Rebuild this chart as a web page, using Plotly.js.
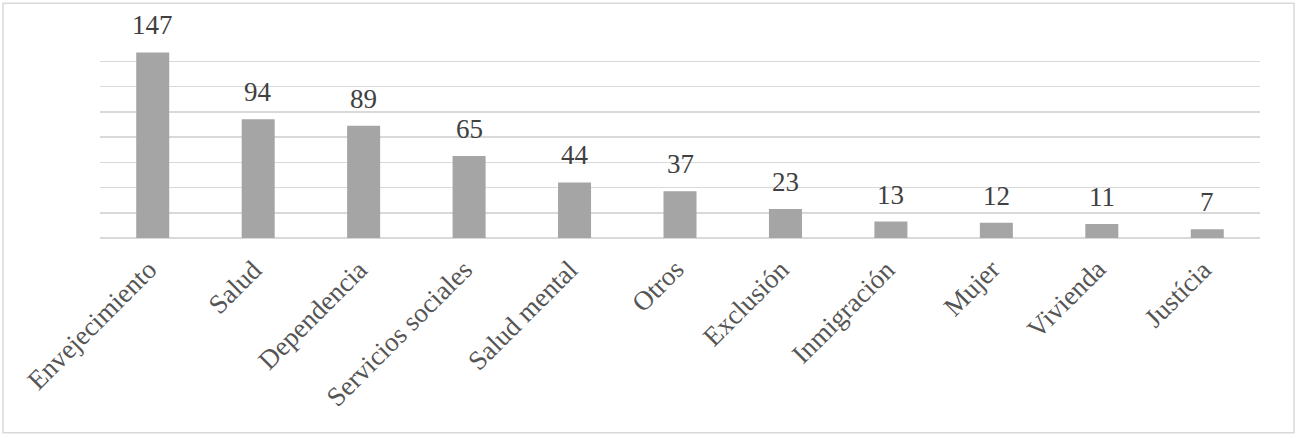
<!DOCTYPE html>
<html>
<head>
<meta charset="utf-8">
<script src="https://cdn.plot.ly/plotly-3.0.1.min.js"></script>
<style>html,body{margin:0;padding:0;background:#fff;}#chart{width:1299px;height:438px;}</style>
</head>
<body>
<div id="chart"></div>
<script>
const categories = ["Envejecimiento","Salud","Dependencia","Servicios sociales","Salud mental","Otros","Exclusión","Inmigración","Mujer","Vivienda","Justícia"];
const values = [147, 94, 89, 65, 44, 37, 23, 13, 12, 11, 7];
const yTicks = [0, 20, 40, 60, 80, 100, 120, 140, 160];

const serif = "Liberation Serif, Times New Roman, serif";

const trace = {
  type: "bar",
  x: categories,
  y: values,
  marker: {color: "#a5a5a5"},
  hoverinfo: "x+y"
};

const valueLabels = categories.map((c, i) => ({
  x: c, y: values[i], xref: "x", yref: "y",
  text: String(values[i]), showarrow: false,
  yanchor: "middle", yshift: 27,
  font: {family: serif, size: 27, color: "#404040"}
}));

const categoryLabels = categories.map((c) => ({
  x: c, y: 0, xref: "x", yref: "y",
  text: c, showarrow: false, textangle: -45,
  xanchor: "right", yanchor: "top",
  xshift: 11, yshift: -15, borderpad: 0,
  font: {family: serif, size: 27, color: "#555555"}
}));

const layout = {
  width: 1299, height: 438,
  margin: {l: 100, r: 39, t: 36, b: 200},
  paper_bgcolor: "#ffffff", plot_bgcolor: "#ffffff",
  bargap: 0.687,
  showlegend: false,
  xaxis: {
    type: "category",
    range: [-0.5, categories.length - 0.5],
    autorange: false,
    showticklabels: false,
    ticks: "",
    showgrid: false,
    showline: false,
    zeroline: false,
    automargin: false,
    fixedrange: true
  },
  yaxis: {
    range: [0, 160],
    autorange: false,
    tickvals: yTicks,
    showticklabels: false,
    showgrid: true,
    gridcolor: "#d9d9d9",
    gridwidth: 1.5,
    zeroline: true,
    zerolinecolor: "#d9d9d9",
    zerolinewidth: 1.5,
    showline: false,
    fixedrange: true
  },
  annotations: valueLabels.concat(categoryLabels),
  shapes: [{
    type: "rect", xref: "paper", yref: "paper",
    x0: -0.0836, x1: 1.0293, y0: -0.9639, y1: 1.1619,
    line: {color: "#d9d9d9", width: 1.5},
    fillcolor: "rgba(0,0,0,0)", layer: "below"
  }]
};

Plotly.newPlot("chart", [trace], layout, {displayModeBar: false, staticPlot: true});
</script>
</body>
</html>
